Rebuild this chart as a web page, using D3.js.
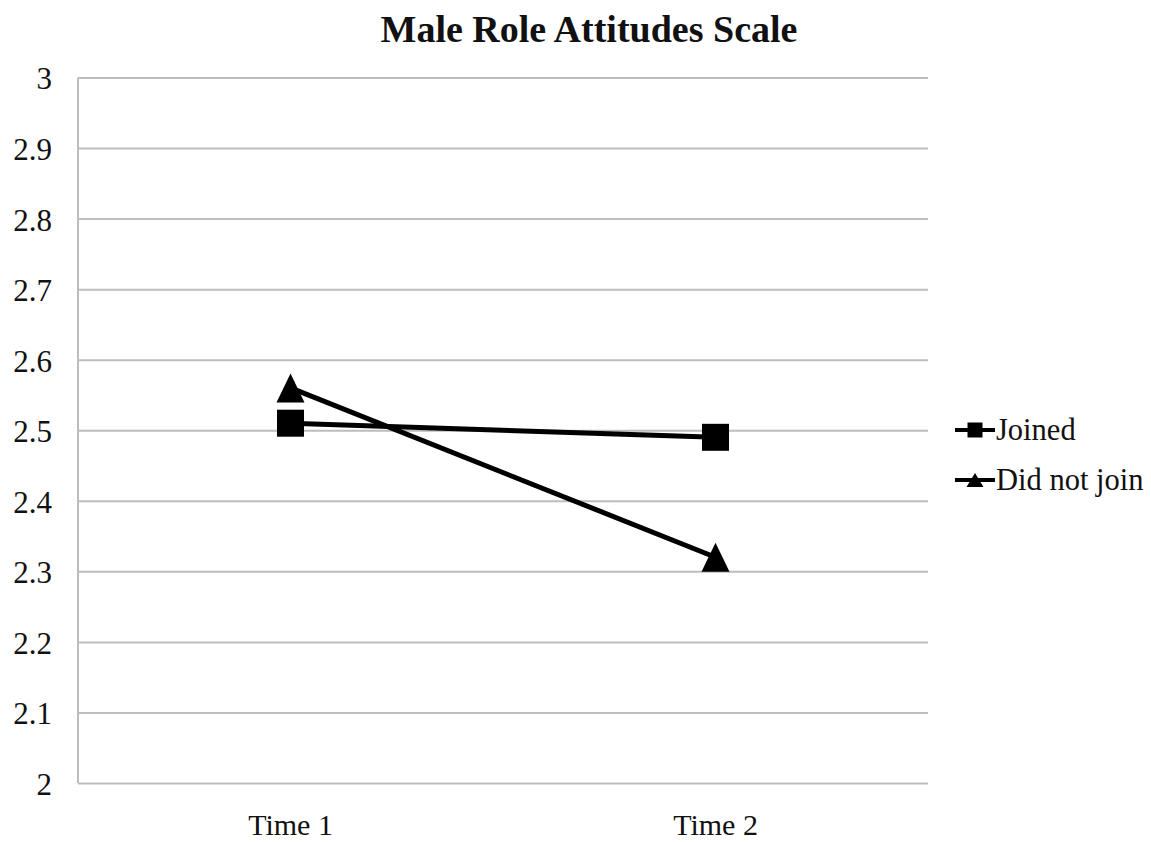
<!DOCTYPE html>
<html><head><meta charset="utf-8">
<script src="https://cdn.jsdelivr.net/npm/d3@7"></script>
<style>body{margin:0;background:#fff}svg{display:block}</style>
</head><body>
<svg id="c" width="1151" height="842"></svg>
<script>
const categories = ["Time 1", "Time 2"];
const seriesNames = ["Joined", "Did not join"];
const joined = [2.51, 2.49];
const didNotJoin = [2.56, 2.32];
const yTicks = [2, 2.1, 2.2, 2.3, 2.4, 2.5, 2.6, 2.7, 2.8, 2.9, 3];
const title = "Male Role Attitudes Scale";

const svg = d3.select("#c");
const font = "'Liberation Serif', 'Times New Roman', serif";
const L = 78, R = 928, T = 77.5, B = 783;
const x = d3.scaleBand().domain(categories).range([L, R]);
const y = d3.scaleLinear().domain([2, 3]).range([B, T]);

// gridlines
const yAxis = d3.axisLeft(y).tickValues(yTicks).tickSize(-(R - L)).tickFormat(d3.format("~g"));
const gy = svg.append("g").attr("transform", `translate(${L},0)`).call(yAxis);
gy.attr("font-family", font);
gy.select(".domain").remove();
gy.selectAll(".tick line").attr("stroke", "#bdbdbd").attr("stroke-width", 2);
gy.selectAll(".tick text").attr("x", -26).attr("dy", "0.37em").attr("font-family", font).attr("font-size", 31).attr("fill", "#111");
svg.append("line").attr("x1", L).attr("x2", L).attr("y1", T).attr("y2", B).attr("stroke", "#bdbdbd").attr("stroke-width", 2);

const xAxis = d3.axisBottom(x).tickSize(0);
const gx = svg.append("g").attr("transform", `translate(0,${B})`).call(xAxis);
gx.attr("font-family", font);
gx.select(".domain").remove();
gx.selectAll(".tick text").attr("dy", 0).attr("y", 52).attr("font-family", font).attr("font-size", 30).attr("fill", "#111");

const cx = d => x(d) + x.bandwidth() / 2;
const line = d3.line().x((d, i) => cx(categories[i])).y(d => y(d));

// custom symbols
const squareSym = (w) => `M${-w/2},${-w/2}h${w}v${w}h${-w}Z`;
const triSym = (w, h) => `M0,${-h/2}L${w/2},${h/2}L${-w/2},${h/2}Z`;
const series = [
  {name: seriesNames[0], values: joined, big: squareSym(27), small: squareSym(15)},
  {name: seriesNames[1], values: didNotJoin, big: triSym(28, 29), small: triSym(17, 14)}
];

series.forEach(s => {
  svg.append("path").attr("d", line(s.values)).attr("fill", "none").attr("stroke", "#000").attr("stroke-width", 5);
});
series.forEach(s => {
  svg.selectAll(null).data(s.values).enter().append("path")
    .attr("d", s.big)
    .attr("transform", (d, i) => `translate(${cx(categories[i])},${y(d)})`)
    .attr("fill", "#000");
});

// title
svg.append("text").attr("x", 589).attr("y", 42).attr("text-anchor", "middle")
  .attr("font-family", font).attr("font-weight", "bold").attr("font-size", 38).attr("fill", "#111").text(title);

// legend
const legY = [430, 480];
series.forEach((s, i) => {
  const g = svg.append("g").attr("transform", `translate(975,${legY[i]})`);
  g.append("line").attr("x1", -20).attr("x2", 20).attr("y1", 0).attr("y2", 0).attr("stroke", "#000").attr("stroke-width", 4);
  g.append("path").attr("d", s.small).attr("fill", "#000");
  g.append("text").attr("x", 21).attr("y", 10).attr("font-family", font).attr("font-size", 30.5).attr("fill", "#111").text(s.name);
});
</script>
</body></html>
